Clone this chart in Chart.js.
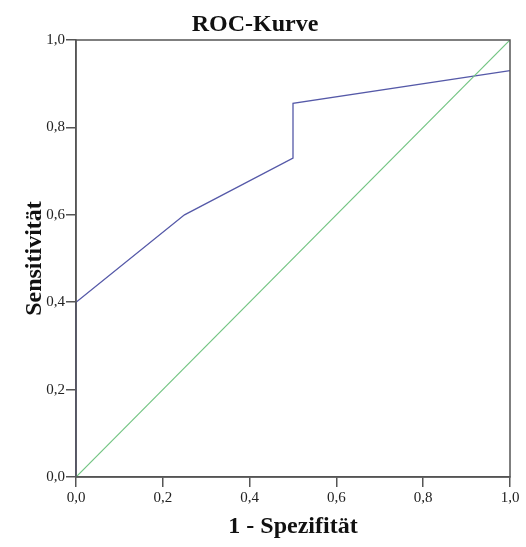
<!DOCTYPE html>
<html>
<head>
<meta charset="utf-8">
<script src="https://cdn.jsdelivr.net/npm/chart.js@4/dist/chart.umd.min.js"></script>
<style>
  html, body { margin: 0; padding: 0; background: #fff; }
  #wrap { width: 526px; height: 547px; }
</style>
</head>
<body>
<div id="wrap"><canvas id="rocChart" width="526" height="547"></canvas></div>
<script>
// ROC curve (1 - specificity, sensitivity)
let rocX = [0, 0, 0.25, 0.5, 0.5, 1];
let rocY = [0, 0.4, 0.6, 0.73, 0.855, 0.93];
// reference line
let diagX = [0, 1];
let diagY = [0, 1];
let tickLabels = ["0,0", "0,2", "0,4", "0,6", "0,8", "1,0"];

let serif = "'Liberation Serif', 'Times New Roman', serif";

function toPoints(xs, ys) {
    return xs.map((x, i) => ({ x: x, y: ys[i] }));
}

// draw the box around the plot area like the SPSS output
const framePlugin = {
    id: "frame",
    afterDatasetsDraw(chart) {
        let a = chart.chartArea;
        let ctx = chart.ctx;
        ctx.save();
        ctx.strokeStyle = "#555";
        ctx.lineWidth = 1.5;
        ctx.strokeRect(a.left, a.top, a.right - a.left, a.bottom - a.top);
        ctx.restore();
    }
};

function fixX(scale) {
    scale.height = 70;
    scale.paddingLeft = 0;
    scale.paddingRight = 0;
}
function fixY(scale) {
    scale.width = 76;
    scale.paddingTop = 0;
    scale.paddingBottom = 0;
}

let ctx = document.getElementById("rocChart").getContext("2d");
new Chart(ctx, {
    type: "scatter",
    data: {
        datasets: [
            { label: "Bezugslinie", data: toPoints(diagX, diagY), showLine: true, borderColor: "#72c482", borderWidth: 1.2, pointRadius: 0, fill: false },
            { label: "ROC", data: toPoints(rocX, rocY), showLine: true, borderColor: "#5559a8", borderWidth: 1.3, pointRadius: 0, fill: false, clip: 3 }
        ]
    },
    options: {
        responsive: false,
        animation: false,
        layout: { padding: { left: 0, right: 16, top: 0, bottom: 0 } },
        plugins: {
            legend: { display: false },
            tooltip: { enabled: false },
            title: {
                display: true,
                text: "ROC-Kurve",
                color: "#111",
                font: { family: serif, size: 24, weight: "bold", lineHeight: 1.2 },
                padding: { top: 10, bottom: 1.2 }
            }
        },
        scales: {
            x: {
                type: "linear",
                min: 0,
                max: 1,
                afterFit: fixX,
                border: { display: true, color: "#555", width: 1.5 },
                grid: { drawOnChartArea: false, drawTicks: true, tickLength: 10, color: "#555", lineWidth: 1.5 },
                ticks: {
                    stepSize: 0.2,
                    padding: 2,
                    color: "#222",
                    font: { family: serif, size: 15 },
                    callback: (v, i) => tickLabels[i]
                },
                title: {
                    display: true,
                    text: "1 - Spezifität",
                    color: "#111",
                    font: { family: serif, size: 24, weight: "bold", lineHeight: 1.2 },
                    padding: { top: 0, bottom: 6 }
                }
            },
            y: {
                type: "linear",
                min: 0,
                max: 1,
                afterFit: fixY,
                border: { display: true, color: "#555", width: 1.5 },
                grid: { drawOnChartArea: false, drawTicks: true, tickLength: 10, color: "#555", lineWidth: 1.5 },
                ticks: {
                    stepSize: 0.2,
                    padding: 1,
                    color: "#222",
                    font: { family: serif, size: 15 },
                    callback: (v, i) => tickLabels[i]
                },
                title: {
                    display: true,
                    text: "Sensitivität",
                    color: "#111",
                    font: { family: serif, size: 24, weight: "bold", lineHeight: 1.2 },
                    padding: { top: 20, bottom: 0 }
                }
            }
        }
    },
    plugins: [framePlugin]
});
</script>
</body>
</html>
